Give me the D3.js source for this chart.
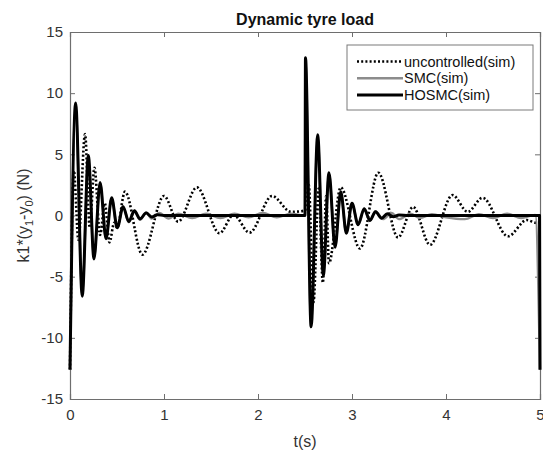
<!DOCTYPE html>
<html>
<head>
<meta charset="utf-8">
<script src="https://cdn.jsdelivr.net/npm/d3@7"></script>
<style>
  body { margin: 0; background: #fff; }
  text { font-family: "Liberation Sans", Arial, sans-serif; }
</style>
</head>
<body>
<svg id="chart" width="543" height="450"></svg>
<script>
// values, [t (s), load (N)]
const uncontrolled = [
  [0, -12.6], [0.04, 3.7], [0.09, -2.0], [0.16, 6.65], [0.21, -1.0], [0.26, 3.9],
  [0.32, -1.6], [0.37, 1.0], [0.42, -2.2], [0.47, -0.6], [0.5, -1.0], [0.585, 1.95],
  [0.77, -3.2], [1.0, 1.6], [1.15, -0.5], [1.35, 2.3], [1.59, -1.45], [1.74, 0.05],
  [1.91, -1.4], [2.15, 1.6], [2.35, 0.3], [2.5, 0.4], [2.54, 2.5], [2.59, -7.1],
  [2.645, 2.2], [2.69, -5.5], [2.725, 1.6], [2.755, -3.9], [2.88, 2.3], [3.085, -2.7],
  [3.28, 3.5], [3.49, -1.8], [3.65, 0.7], [3.83, -2.4], [4.07, 1.67], [4.23, 0.3],
  [4.39, 1.45], [4.66, -1.7], [4.86, -0.37], [4.96, -0.6], [5.0, -0.55]
];
const smc = [
  [0, -12.6], [0.06, 8.9], [0.13, -6.4], [0.195, 4.7], [0.255, -3.4], [0.32, 2.6],
  [0.383, -1.8], [0.443, 1.4], [0.503, -1.0], [0.565, 0.75], [0.625, -0.55], [0.685, 0.4],
  [0.745, -0.35], [0.81, 0.25], [0.87, -0.25], [0.95, 0.2], [1.05, -0.25], [1.15, 0.15],
  [1.3, -0.2], [1.45, 0.15], [1.6, -0.2], [1.75, 0.15], [1.9, -0.15], [2.05, 0.2],
  [2.2, -0.15], [2.35, 0.15], [2.5, 0], [2.505, 12.6], [2.565, -8.9], [2.635, 6.4],
  [2.695, -4.8], [2.755, 3.4], [2.82, -2.5], [2.88, 1.9], [2.94, -1.4], [3.0, 1.0],
  [3.065, -0.75], [3.13, 0.55], [3.19, -0.45], [3.25, 0.35], [3.33, -0.3], [3.42, 0.2],
  [3.5, -0.3], [3.62, 0.15], [3.72, -0.2], [3.85, 0.1], [4.0, -0.15], [4.2, -0.3],
  [4.35, 0.1], [4.5, -0.2], [4.65, 0.15], [4.8, -0.2], [4.95, 0.05], [5.0, -12.6]
];
const hosmc = [
  [0, -12.6], [0.06, 9.2], [0.13, -6.6], [0.195, 4.9], [0.255, -3.55], [0.32, 2.7],
  [0.383, -1.9], [0.443, 1.45], [0.503, -1.0], [0.565, 0.72], [0.625, -0.5], [0.685, 0.38],
  [0.745, -0.28], [0.81, 0.2], [0.87, -0.12], [0.93, 0.06], [1.0, 0], [2.5, 0],
  [2.505, 12.9], [2.565, -9.1], [2.635, 6.6], [2.695, -4.9], [2.755, 3.5], [2.82, -2.6],
  [2.88, 1.95], [2.94, -1.45], [3.0, 1.0], [3.065, -0.75], [3.13, 0.55], [3.19, -0.4],
  [3.25, 0.3], [3.315, -0.22], [3.375, 0.15], [3.44, -0.1], [3.5, 0.05], [3.6, 0],
  [4.995, 0], [5.0, -12.6]
];
const xTicks = [0, 1, 2, 3, 4, 5];
const yTicks = [-15, -10, -5, 0, 5, 10, 15];
const seriesNames = ["uncontrolled(sim)", "SMC(sim)", "HOSMC(sim)"];

const svg = d3.select("#chart");
const margin = {top: 32, right: 3, bottom: 51, left: 70};
const width = 543 - margin.left - margin.right;
const height = 450 - margin.top - margin.bottom;
const axisColor = "#6e6e6e";
const textColor = "#333";

const x = d3.scaleLinear().domain([0, 5]).range([0, width]);
const y = d3.scaleLinear().domain([-15, 15]).range([height, 0]);

// MATLAB style labels: plain integers with a hyphen minus
const fmt = d => String(d);

const g = svg.append("g").attr("transform", `translate(${margin.left},${margin.top})`);

g.append("clipPath").attr("id", "clip")
  .append("rect").attr("x", -2).attr("y", 0).attr("width", width + 4).attr("height", height);

// axes: ticks inside, box on all four sides
const tickLen = 5;
const axisBottomG = g.append("g").attr("transform", `translate(0,${height})`)
  .call(d3.axisBottom(x).tickValues(xTicks).tickFormat(fmt).tickSize(-tickLen).tickPadding(10));
const axisLeftG = g.append("g")
  .call(d3.axisLeft(y).tickValues(yTicks).tickFormat(fmt).tickSize(-tickLen).tickPadding(7));
const axisTopG = g.append("g")
  .call(d3.axisTop(x).tickValues(xTicks).tickSize(-tickLen).tickFormat(""));
const axisRightG = g.append("g").attr("transform", `translate(${width},0)`)
  .call(d3.axisRight(y).tickValues(yTicks).tickSize(-tickLen).tickFormat(""));

[axisBottomG, axisLeftG, axisTopG, axisRightG].forEach(a => {
  a.selectAll("path, line").attr("stroke", axisColor);
  a.select(".domain").attr("stroke-width", 1.2);
  a.selectAll("text").attr("fill", textColor).style("font-size", "15px")
    .style("font-family", "'Liberation Sans', Arial, sans-serif");
});

const line = d3.line()
  .x(d => x(d[0]))
  .y(d => y(d[1]))
  .curve(d3.curveMonotoneX);

const plot = g.append("g").attr("clip-path", "url(#clip)");

plot.append("path").datum(uncontrolled)
  .attr("fill", "none").attr("stroke", "#000").attr("stroke-width", 2.6)
  .attr("stroke-dasharray", "2,2.2").attr("d", line);

plot.append("path").datum(smc)
  .attr("fill", "none").attr("stroke", "#8c8c8c").attr("stroke-width", 2.4)
  .attr("d", line);

plot.append("path").datum(hosmc)
  .attr("fill", "none").attr("stroke", "#000").attr("stroke-width", 3)
  .attr("stroke-linejoin", "round").attr("d", line);

// title and labels
svg.append("text").attr("x", 305).attr("y", 25).attr("text-anchor", "middle")
  .style("font-size", "16px").style("font-weight", "bold").attr("fill", "#111")
  .text("Dynamic tyre load");

svg.append("text").attr("x", margin.left + width / 2).attr("y", 447)
  .attr("text-anchor", "middle").style("font-size", "16px").attr("fill", textColor)
  .text("t(s)");

const ylab = svg.append("text")
  .attr("transform", `translate(29,${margin.top + height / 2}) rotate(-90)`)
  .attr("text-anchor", "middle").style("font-size", "16px").attr("fill", textColor);
ylab.append("tspan").text("k1*(y");
ylab.append("tspan").attr("dy", 4).style("font-size", "11px").text("1");
ylab.append("tspan").attr("dy", -4).text("-y");
ylab.append("tspan").attr("dy", 4).style("font-size", "11px").text("0");
ylab.append("tspan").attr("dy", -4).text(") (N)");

// legend
const legend = svg.append("g").attr("transform", "translate(347,45)");
legend.append("rect").attr("width", 186).attr("height", 65)
  .attr("fill", "#fff").attr("stroke", "#7a7a7a").attr("stroke-width", 1);
const legendStyles = [
  {stroke: "#000", width: 2.6, dash: "2,2.2"},
  {stroke: "#8c8c8c", width: 2.6, dash: null},
  {stroke: "#000", width: 3, dash: null}
];
seriesNames.forEach((name, i) => {
  const yy = 16.5 + i * 16.7;
  legend.append("line").attr("x1", 10).attr("x2", 56).attr("y1", yy).attr("y2", yy)
    .attr("stroke", legendStyles[i].stroke).attr("stroke-width", legendStyles[i].width)
    .attr("stroke-dasharray", legendStyles[i].dash);
  legend.append("text").attr("x", 57).attr("y", yy + 5)
    .style("font-size", "14.5px").attr("fill", "#111").text(name);
});
</script>
</body>
</html>
